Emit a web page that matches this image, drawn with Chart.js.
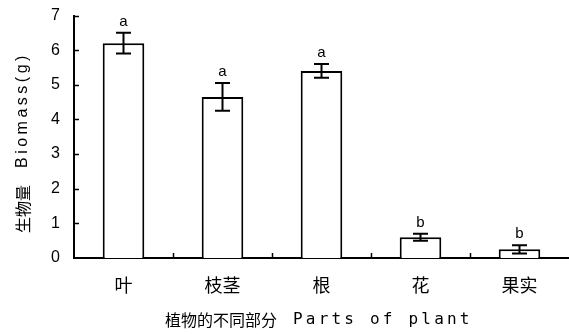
<!DOCTYPE html>
<html>
<head>
<meta charset="utf-8">
<script src="https://cdn.jsdelivr.net/npm/chart.js@4/dist/chart.umd.min.js"></script>
<style>
  html, body { margin: 0; padding: 0; background: #fff; }
  #wrap { width: 569px; height: 334px; }
</style>
</head>
<body>
<div id="wrap"><canvas id="c" width="569" height="334"></canvas></div>
<script>
// Plant parts and their biomass (g), with error and significance letters
const categories = ['叶', '枝茎', '根', '花', '果实'];
const biomass = [6.2, 4.65, 5.4, 0.6, 0.25];
const errors = [0.3, 0.4, 0.2, 0.1, 0.12];
const letters = ['a', 'a', 'a', 'b', 'b'];
const yTickValues = [0, 1, 2, 3, 4, 5, 6, 7];

const yTitleCn = '生物量';
const yTitleEn = 'Biomass(g)';
const xTitleCn = '植物的不同部分';
const xTitleEn = 'Parts of plant';

const INK = '#000';
const PLOT_TOP = 15.5;

// Pin the top of the plotting area so the value axis spans a fixed height
const pinTop = {
  id: 'pinTop',
  afterLayout(chart) {
    const y = chart.scales.y;
    y.top = PLOT_TOP;
    y.height = y.bottom - y.top;
    chart.chartArea.top = PLOT_TOP;
    chart.chartArea.height = chart.chartArea.bottom - PLOT_TOP;
    y.configure();
  }
};

// Inward-pointing tick marks on both axes
const innerTicks = {
  id: 'innerTicks',
  afterDatasetsDraw(chart) {
    const { ctx, scales: { x, y } } = chart;
    ctx.save();
    ctx.strokeStyle = INK;
    ctx.lineWidth = 1.5;
    const left = x.left;
    yTickValues.forEach(v => {
      if (v === 0) return;
      const py = Math.round(y.getPixelForValue(v)) + 0.5;
      ctx.beginPath();
      ctx.moveTo(left, py);
      ctx.lineTo(left + 5, py);
      ctx.stroke();
    });
    const base = y.getPixelForValue(0);
    for (let i = 0; i < categories.length - 1; i++) {
      const px = Math.round((x.getPixelForValue(i) + x.getPixelForValue(i + 1)) / 2) + 0.5;
      ctx.beginPath();
      ctx.moveTo(px, base);
      ctx.lineTo(px, base - 5);
      ctx.stroke();
    }
    ctx.restore();
  }
};

// Error whiskers and significance letters above each bar
const errorBars = {
  id: 'errorBars',
  afterDatasetsDraw(chart) {
    const { ctx, scales: { x, y } } = chart;
    ctx.save();
    ctx.strokeStyle = INK;
    ctx.fillStyle = INK;
    ctx.lineWidth = 2;
    const cap = 7.5;
    biomass.forEach((v, i) => {
      const px = x.getPixelForValue(i);
      const top = y.getPixelForValue(v + errors[i]);
      const bot = y.getPixelForValue(v - errors[i]);
      ctx.beginPath();
      ctx.moveTo(px, top); ctx.lineTo(px, bot);
      ctx.moveTo(px - cap, top); ctx.lineTo(px + cap, top);
      ctx.moveTo(px - cap, bot); ctx.lineTo(px + cap, bot);
      ctx.stroke();
      ctx.font = '15px "Liberation Sans", Arial, sans-serif';
      ctx.textAlign = 'center';
      ctx.textBaseline = 'alphabetic';
      ctx.fillText(letters[i], px, top - 7);
    });
    ctx.restore();
  }
};

// Axis titles with letter spacing
const axisTitles = {
  id: 'axisTitles',
  afterDraw(chart) {
    const { ctx } = chart;
    ctx.save();
    ctx.fillStyle = INK;
    // vertical title, read bottom to top
    ctx.translate(23, 0);
    ctx.rotate(-Math.PI / 2);
    ctx.textAlign = 'left';
    ctx.textBaseline = 'middle';
    ctx.font = '16px "Noto Sans CJK SC", sans-serif';
    ctx.fillText(yTitleCn, -233, 0);
    ctx.font = '16px "Liberation Sans", Arial, sans-serif';
    ctx.letterSpacing = '3.5px';
    ctx.fillText(yTitleEn, -168, 0);
    ctx.restore();

    ctx.save();
    ctx.fillStyle = INK;
    ctx.textBaseline = 'middle';
    ctx.textAlign = 'left';
    ctx.font = '16px "Noto Sans CJK SC", sans-serif';
    ctx.fillText(xTitleCn, 165, 320);
    ctx.font = '16px "DejaVu Sans Mono", monospace';
    ctx.letterSpacing = '3.2px';
    ctx.fillText(xTitleEn, 293, 320);
    ctx.restore();
  }
};

new Chart(document.getElementById('c'), {
  type: 'bar',
  data: {
    labels: categories,
    datasets: [{
      data: biomass,
      backgroundColor: '#fff',
      borderColor: INK,
      borderWidth: 2,
      barPercentage: 0.42,
      categoryPercentage: 1.0
    }]
  },
  options: {
    responsive: false,
    animation: false,
    devicePixelRatio: 1,
    layout: { padding: { top: 8, right: 0, bottom: 0, left: 0 } },
    plugins: {
      legend: { display: false },
      tooltip: { enabled: false }
    },
    scales: {
      x: {
        grid: { display: false, drawTicks: false },
        border: { display: true, color: INK, width: 2 },
        ticks: {
          color: INK,
          padding: 16,
          font: { family: '"Noto Sans CJK SC", sans-serif', size: 18 }
        },
        afterFit(scale) { scale.height = 76; }
      },
      y: {
        min: 0,
        max: 7,
        afterBuildTicks(scale) { scale.ticks = yTickValues.map(v => ({ value: v })); },
        grid: { display: false, drawTicks: false },
        border: { display: true, color: INK, width: 2 },
        ticks: {
          color: INK,
          padding: 14,
          font: { family: '"Liberation Sans", Arial, sans-serif', size: 16 }
        },
        afterFit(scale) { scale.width = 74; }
      }
    }
  },
  plugins: [pinTop, innerTicks, errorBars, axisTitles]
});
</script>
</body>
</html>
